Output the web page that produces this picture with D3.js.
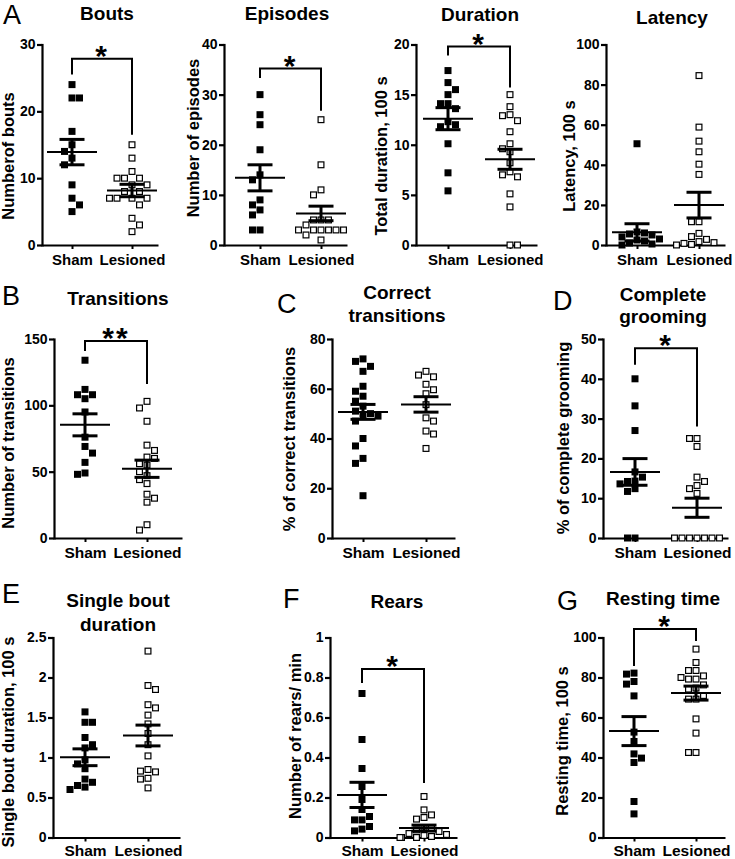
<!DOCTYPE html>
<html><head><meta charset="utf-8">
<script src="https://cdn.jsdelivr.net/npm/d3@7/dist/d3.min.js"></script>
<style>
html,body{margin:0;padding:0;background:#fff;}
svg{display:block;}
text{font-family:"Liberation Sans",Arial,sans-serif;fill:#000;}
</style></head>
<body><svg id="chart" width="735" height="859"></svg>
<script>
// ---------------- DATA ----------------
const groups = ["Sham", "Lesioned"];
const titles = [["Bouts"], ["Episodes"], ["Duration"], ["Latency"], ["Transitions"], ["Correct", "transitions"], ["Complete", "grooming"], ["Single bout", "duration"], ["Rears"], ["Resting time"]];
const yLabels = ["Numberof bouts", "Number of episodes", "Total duration, 100 s", "Latency, 100 s", "Number of transitions", "% of correct transitions", "% of complete grooming", "Single bout duration, 100 s", "Number of rears/ min", "Resting time, 100 s"];
const yTicks = [[0,10,20,30],[0,10,20,30,40],[0,5,10,15,20],[0,20,40,60,80,100],[0,50,100,150],[0,20,40,60,80],[0,10,20,30,40,50],[0,0.5,1,1.5,2,2.5],[0,0.2,0.4,0.6,0.8,1],[0,20,40,60,80,100]];
const panelLetters = ["A", "B", "C", "D", "E", "F", "G"];

const boutsSham = [24,22,22,17,15,14,13,12,9,7,6,5];
const boutsLes = [15,13,11,10,10,10,9,9,8,8,7,7,7,7,6,4,3,2];
const episodesSham = [30,26,24,19,14,13,9,8,7,6,3,3];
const episodesLes = [25,16,11,10,5,5,5,4,3,3,3,3,3,3,2,1];
const durationSham = [17.4,16.2,15.5,15.0,14.1,14.1,13.6,12.3,12.0,11.8,10.1,7.2,5.4];
const durationLes = [15.0,13.8,13.0,12.9,12.4,11.3,10.1,9.6,9.3,8.2,7.3,7.0,6.8,5.1,3.8,0,0];
const latencySham = [50.5,6.5,6,5.5,5,4,3,2.5,2,1,0.5,0];
const latencyLes = [84.5,58.8,51.8,46.5,40.3,35.2,11.6,11.6,5.8,4.2,2.8,1.7,1.2,0.8,0.3,0];
const transitionsSham = [134,112,108,108,105,95,76,69,64,57,49,48];
const transitionsLes = [103,98,88,70,66,61,60,56,55,50,47,44,41,33,30,27,10,6];
const correctSham = [72,71,69,67,61,59,57,55,53,51,50,49,49,47,40,37,32,30,17];
const correctLes = [67,65.5,64.8,61.8,59.6,58,53.6,48.3,47,43,41.8,36];
const groomingSham = [40,33.2,27,16.6,15.3,14.3,14.2,13.6,12.4,11.7,0,0];
const groomingLes = [25,25,23,15.3,14.2,13.2,12.4,11.2,0,0,0,0,0,0,0];
const singleSham = [1.57,1.44,1.44,1.25,1.16,1.12,0.97,0.92,0.86,0.73,0.69,0.65,0.63,0.60];
const singleLes = [2.33,1.90,1.85,1.66,1.62,1.53,1.42,1.30,1.16,1.02,0.85,0.83,0.82,0.74,0.73,0.62];
const rearsSham = [0.72,0.49,0.345,0.255,0.19,0.14,0.105,0.088,0.088,0.055,0.042,0.033];
const rearsLes = [0.205,0.138,0.113,0.1,0.092,0.05,0.045,0.038,0.03,0.02,0.015,0.01,0.005,0,0,0];
const restingSham = [82.2,81.7,78,76.7,70.8,52.7,48,41.8,39.7,37.5,18,11.8];
const restingLes = [94.2,87.5,83.5,83.5,80.8,80,79.2,79.2,76.3,74.7,74.2,71,69.2,69.2,59.3,52.2,42.5,42.5];

const shamValues = [boutsSham, episodesSham, durationSham, latencySham, transitionsSham, correctSham, groomingSham, singleSham, rearsSham, restingSham];
const lesValues = [boutsLes, episodesLes, durationLes, latencyLes, transitionsLes, correctLes, groomingLes, singleLes, rearsLes, restingLes];

// mean and SEM as drawn
const shamMean = [13.9, 13.4, 12.6, 6.3, 85.3, 50.7, 16.6, 1.003, 0.213, 53.2];
const shamSem  = [1.9, 2.6, 1.1, 4.3, 8.3, 3.0, 3.35, 0.105, 0.063, 7.25];
const lesMean  = [8.15, 6.3, 8.55, 19.9, 52.2, 53.7, 7.6, 1.275, 0.047, 72.2];
const lesSem   = [0.93, 1.45, 1.0, 6.4, 6.5, 3.1, 2.4, 0.13, 0.015, 3.5];

// significance brackets (data units)
const sigLabel = ["*", "*", "*", "", "**", "", "*", "", "*", "*"];
const sigTop   = [27.85, 35.2, 19.8, null, 148.5, null, 47.7, null, 0.843, 104.3];
const sigLeft  = [25.5, 33.3, 18.9, null, 141, null, 43.5, null, 0.772, 85.8];
const sigRight = [16.5, 26.8, 15.7, null, 116, null, 28, null, 0.272, 98.3];

// ---------------- LAYOUT ----------------
const layout = [
  {ax:42,  top:44.5, bot:245, sx:72,  lx:132, ex:158, tx:107, ty:[20],      ylx:8,   yly:156, fx:15,   xp:5},
  {ax:224, top:44.5, bot:245, sx:260, lx:321, ex:347, tx:287, ty:[20],      ylx:193, yly:138, fx:15,   xp:5},
  {ax:416, top:44.5, bot:245, sx:448, lx:510, ex:537, tx:480, ty:[21],      ylx:381, yly:156, fx:15,   xp:5},
  {ax:606, top:44.5, bot:245, sx:637, lx:699, ex:725, tx:672, ty:[24],      ylx:569, yly:156, fx:15,   xp:5},
  {ax:54,  top:339,  bot:538, sx:85,  lx:147, ex:182, tx:118, ty:[305],     ylx:8,   yly:443, fx:15.5, xp:5},
  {ax:332, top:339,  bot:538, sx:363, lx:426, ex:455, tx:397, ty:[299,322], ylx:289, yly:439, fx:15.5, xp:5},
  {ax:603, top:339,  bot:538, sx:635, lx:697, ex:728, tx:663, ty:[301,323], ylx:563, yly:438, fx:15.5, xp:5},
  {ax:53,  top:637.5,bot:837.5,sx:85, lx:148, ex:180, tx:118, ty:[607,631], ylx:8,   yly:742, fx:15.5, xp:3},
  {ax:330, top:637.5,bot:837.5,sx:362,lx:424, ex:457, tx:397, ty:[608],     ylx:295, yly:736, fx:15.5, xp:3},
  {ax:603, top:637.5,bot:837.5,sx:634,lx:696, ex:725, tx:663, ty:[605],     ylx:562, yly:741, fx:15.5, xp:3}
];
const letterPos = [{x:3,y:24},{x:2,y:305},{x:277,y:313},{x:553,y:310},{x:2,y:603},{x:283,y:608},{x:557,y:610}];

const svg = d3.select("#chart");

function swarm(values, y, cx, d, cap) {
  const order = values.map((v, i) => i).sort((a, b) => values[b] - values[a]);
  const placed = [];
  const out = new Array(values.length);
  order.forEach((i, k) => {
    const py = y(values[i]);
    const near = placed.filter(p => Math.abs(p.y - py) < d - 0.01);
    let cands = [0];
    near.forEach(p => { cands.push(p.x + d, p.x - d); });
    cands = cands.filter(c => near.every(p => Math.abs(p.x - c) >= d - 0.01));
    cands.sort((a, b) => (Math.abs(a) - Math.abs(b)) || (k % 2 ? a - b : b - a));
    let x = cands[0];
    if (Math.abs(x) > cap) x = Math.sign(x) * cap;
    placed.push({x: x, y: py});
    out[i] = {v: values[i], x: cx + x, y: py};
  });
  return out;
}

layout.forEach((L, pi) => {
  const g = svg.append("g");
  const ticks = yTicks[pi];
  const y = d3.scaleLinear().domain([0, ticks[ticks.length - 1]]).range([L.bot, L.top]);
  const step = L.lx - L.sx, W = L.ex - L.ax;
  const x = d3.scalePoint().domain(groups).range([L.ax, L.ex])
    .padding((W / step - 1) / 2).align((L.sx - L.ax) / (W - step));

  // y axis
  const ya = g.append("g").attr("transform", `translate(${L.ax},0)`)
    .call(d3.axisLeft(y).tickValues(ticks).tickSize(5).tickSizeOuter(0).tickPadding(1.5).tickFormat(d => String(d)));
  ya.select(".domain").attr("stroke-width", 2.2).attr("stroke-linecap", "square");
  ya.selectAll(".tick line").attr("stroke-width", 2.2);
  ya.selectAll(".tick text").attr("font-size", 14).attr("font-weight", "bold").attr("font-family", "Liberation Sans, Arial, sans-serif");

  // x axis
  const xa = g.append("g").attr("transform", `translate(0,${L.bot})`)
    .call(d3.axisBottom(x).tickSize(4).tickSizeOuter(0).tickPadding(L.xp));
  xa.select(".domain").attr("stroke-width", 2.2);
  xa.selectAll(".tick line").attr("stroke-width", 2);
  xa.selectAll(".tick text").attr("font-size", L.fx).attr("font-weight", "bold").attr("font-family", "Liberation Sans, Arial, sans-serif");

  // title
  titles[pi].forEach((t, li) => {
    g.append("text").attr("x", L.tx).attr("y", L.ty[li]).attr("text-anchor", "middle")
      .attr("font-size", 19).attr("font-weight", "bold").text(t);
  });
  // y label
  g.append("text").attr("transform", `translate(${L.ylx},${L.yly}) rotate(-90)`)
    .attr("text-anchor", "middle").attr("dominant-baseline", "central")
    .attr("font-size", 16.5).attr("font-weight", "bold").text(yLabels[pi]);

  // points
  const ms = 7;
  const sp = swarm(shamValues[pi], y, x("Sham"), 7.5, 24);
  const lp = swarm(lesValues[pi], y, x("Lesioned"), 7.5, 24);
  g.append("g").selectAll("rect").data(sp).join("rect")
    .attr("x", d => d.x - ms / 2).attr("y", d => d.y - ms / 2)
    .attr("width", ms).attr("height", ms).attr("fill", "#000");
  g.append("g").selectAll("rect").data(lp).join("rect")
    .attr("x", d => d.x - (ms - 1.2) / 2).attr("y", d => d.y - (ms - 1.2) / 2)
    .attr("width", ms - 1.2).attr("height", ms - 1.2).attr("fill", "#fff").attr("stroke", "#000").attr("stroke-width", 1.2);

  // mean and SEM
  const stats = [
    {g: "Sham", m: shamMean[pi], s: shamSem[pi]},
    {g: "Lesioned", m: lesMean[pi], s: lesSem[pi]}
  ];
  stats.forEach(st => {
    const cx = x(st.g);
    const eb = g.append("g").attr("stroke", "#000").attr("fill", "none");
    eb.append("line").attr("x1", cx - 25).attr("x2", cx + 25).attr("y1", y(st.m)).attr("y2", y(st.m)).attr("stroke-width", 2);
    eb.append("line").attr("x1", cx).attr("x2", cx).attr("y1", y(st.m + st.s)).attr("y2", y(Math.max(0, st.m - st.s))).attr("stroke-width", 3);
    [st.m + st.s, st.m - st.s].forEach(v => {
      if (v < 0) return;
      eb.append("line").attr("x1", cx - 12.5).attr("x2", cx + 12.5).attr("y1", y(v)).attr("y2", y(v)).attr("stroke-width", 3);
    });
  });

  // significance bracket
  if (sigTop[pi] !== null) {
    const yt = y(sigTop[pi]);
    g.append("path")
      .attr("d", `M${x("Sham")},${y(sigLeft[pi])}V${yt}H${x("Lesioned")}V${y(sigRight[pi])}`)
      .attr("fill", "none").attr("stroke", "#000").attr("stroke-width", 2);
    g.append("text").attr("x", (x("Sham") + x("Lesioned")) / 2).attr("y", yt + 7)
      .attr("text-anchor", "middle").attr("font-size", 30).attr("font-weight", "bold")
      .attr("letter-spacing", 2).text(sigLabel[pi]);
  }
});

// panel letters
panelLetters.forEach((t, i) => {
  svg.append("text").attr("x", letterPos[i].x).attr("y", letterPos[i].y)
    .attr("font-size", 27).attr("font-family", "Open Sans, Liberation Sans, sans-serif").attr("font-weight", 400).text(t);
});
</script>
</body></html>
